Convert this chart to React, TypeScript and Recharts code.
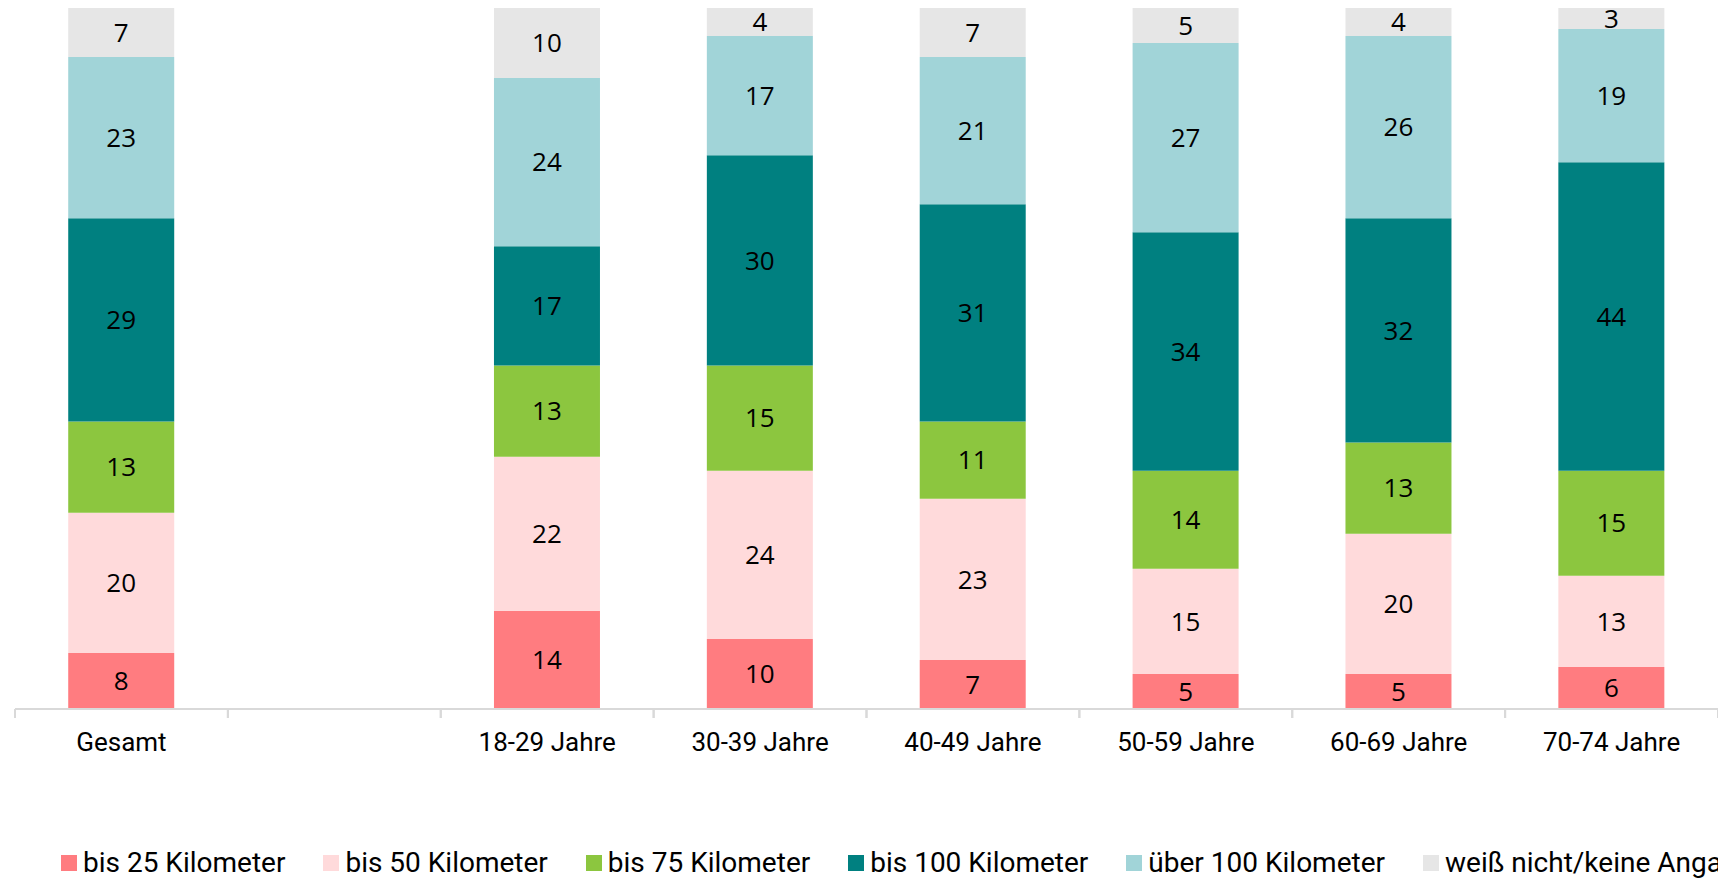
import React from "react";
import { BarChart, Bar, XAxis, YAxis, Legend, LabelList } from "recharts";

const categories = ["Gesamt", "", "18-29 Jahre", "30-39 Jahre", "40-49 Jahre", "50-59 Jahre", "60-69 Jahre", "70-74 Jahre"];
const seriesNames = ["bis 25 Kilometer", "bis 50 Kilometer", "bis 75 Kilometer", "bis 100 Kilometer", "über 100 Kilometer", "weiß nicht/keine Angabe"];
const bis25 = [8, null, 14, 10, 7, 5, 5, 6];
const bis50 = [20, null, 22, 24, 23, 15, 20, 13];
const bis75 = [13, null, 13, 15, 11, 14, 13, 15];
const bis100 = [29, null, 17, 30, 31, 34, 32, 44];
const ueber100 = [23, null, 24, 17, 21, 27, 26, 19];
const weissNicht = [7, null, 10, 4, 7, 5, 4, 3];
const colors = ["#FF7C80", "#FFDADB", "#8CC63F", "#008080", "#A1D4D8", "#E6E6E6"];
const keys = ["s1", "s2", "s3", "s4", "s5", "s6"];
const seriesValues = [bis25, bis50, bis75, bis100, ueber100, weissNicht];

const data = categories.map((name, i) => {
  const row: Record<string, any> = { name };
  keys.forEach((k, j) => { row[k] = seriesValues[j][i]; });
  return row;
});

const AXIS_COLOR = "#D9D9D9";

const CategoryTick = (props: any) => {
  const { x, y, payload } = props;
  const half = payload && typeof payload.offset === "number" ? payload.offset : 0;
  return (
    <g>
      <line x1={x - half} x2={x - half} y1={709} y2={718} stroke={AXIS_COLOR} strokeWidth={2} />
      <line x1={x + half} x2={x + half} y1={709} y2={718} stroke={AXIS_COLOR} strokeWidth={2} />
      <text x={x} y={y} dy="0.71em" textAnchor="middle" fill="#000" fontSize={26} fontFamily="Roboto">
        {payload ? payload.value : ""}
      </text>
    </g>
  );
};

const LegendContent = () => {
  return (
    <div style={{ display: "flex", flexDirection: "row", whiteSpace: "nowrap", alignItems: "center" }}>
      {seriesNames.map((name, i) => (
        <div key={i} style={{ display: "flex", alignItems: "center", marginRight: 38 }}>
          <span style={{ display: "inline-block", width: 16, height: 16, background: colors[i], marginRight: 6 }} />
          <span style={{ fontFamily: "Roboto", fontSize: 28, color: "#000", lineHeight: "30px" }}>{name}</span>
        </div>
      ))}
    </div>
  );
};

export default function App() {
  return (
    <div style={{ position: "absolute", left: 0, top: 0, width: 1718, height: 879, overflow: "hidden", background: "#fff" }}>
      <BarChart
        width={1718}
        height={879}
        data={data}
        margin={{ top: 8, right: 0, left: 15, bottom: 110 }}
        barCategoryGap="25%"
      >
        <YAxis hide domain={[0, 100]} type="number" />
        <XAxis
          dataKey="name"
          height={60}
          tickSize={0}
          tickMargin={24}
          axisLine={{ stroke: AXIS_COLOR, strokeWidth: 2 }}
          tickLine={false}
          tick={<CategoryTick />}
          interval={0}
        />
        <Legend
          verticalAlign="middle"
          align="center"
          layout="horizontal"
          content={<LegendContent />}
          wrapperStyle={{ position: "absolute", top: 848, left: 61, width: 2000, height: 30 }}
        />
        {keys.map((k, j) => (
          <Bar key={k} dataKey={k} name={seriesNames[j]} stackId="a" fill={colors[j]} isAnimationActive={false}>
            <LabelList dataKey={k} position="center" fill="#000" fontSize={26} fontFamily="Open Sans" />
          </Bar>
        ))}
      </BarChart>
    </div>
  );
}
